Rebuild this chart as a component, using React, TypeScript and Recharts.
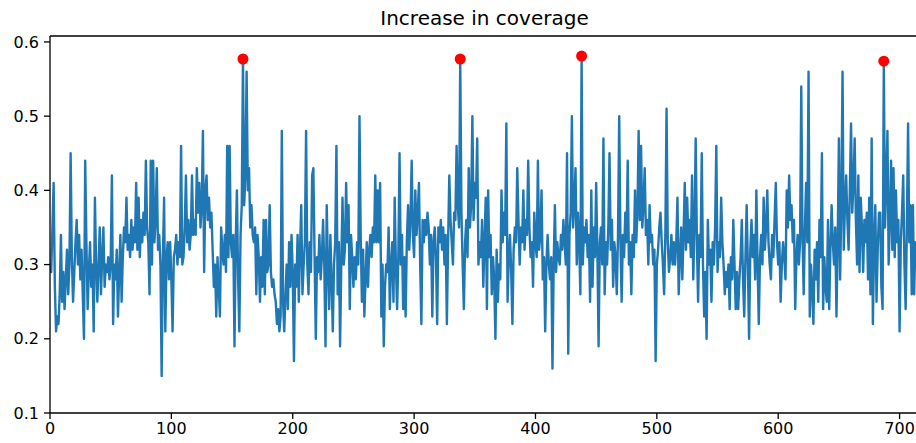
import { ComposedChart, Line, Scatter, XAxis, YAxis, ReferenceLine } from 'recharts';

// increase in coverage per step (index = position in array)
const COVERAGE: number[] = [
  0.30, 0.29, 0.35, 0.41, 0.27, 0.21, 0.23, 0.22, 0.26, 0.34,
  0.25, 0.29, 0.24, 0.28, 0.32, 0.26, 0.30, 0.45, 0.31, 0.25,
  0.29, 0.33, 0.36, 0.30, 0.34, 0.28, 0.32, 0.26, 0.20, 0.44,
  0.33, 0.24, 0.29, 0.33, 0.27, 0.30, 0.21, 0.39, 0.30, 0.25,
  0.30, 0.35, 0.26, 0.31, 0.35, 0.27, 0.30, 0.29, 0.31, 0.28,
  0.30, 0.42, 0.22, 0.30, 0.28, 0.32, 0.23, 0.29, 0.34, 0.25,
  0.31, 0.35, 0.33, 0.39, 0.32, 0.34, 0.31, 0.36, 0.32, 0.35,
  0.33, 0.41, 0.32, 0.39, 0.31, 0.36, 0.33, 0.37, 0.34, 0.44,
  0.35, 0.33, 0.26, 0.44, 0.30, 0.44, 0.33, 0.36, 0.43, 0.32,
  0.34, 0.30, 0.15, 0.31, 0.39, 0.21, 0.31, 0.33, 0.28, 0.33,
  0.28, 0.21, 0.31, 0.32, 0.34, 0.30, 0.33, 0.31, 0.46, 0.30,
  0.31, 0.35, 0.42, 0.33, 0.36, 0.32, 0.34, 0.42, 0.34, 0.36,
  0.34, 0.43, 0.37, 0.41, 0.35, 0.38, 0.48, 0.29, 0.40, 0.42,
  0.36, 0.39, 0.35, 0.37, 0.32, 0.27, 0.30, 0.23, 0.31, 0.27,
  0.23, 0.35, 0.32, 0.30, 0.34, 0.29, 0.46, 0.31, 0.46, 0.33,
  0.31, 0.34, 0.19, 0.33, 0.40, 0.28, 0.21, 0.34, 0.38, 0.577,
  0.38, 0.42, 0.56, 0.40, 0.43, 0.35, 0.38, 0.34, 0.33, 0.35,
  0.26, 0.34, 0.31, 0.25, 0.31, 0.27, 0.36, 0.26, 0.36, 0.29,
  0.30, 0.38, 0.29, 0.27, 0.28, 0.26, 0.25, 0.22, 0.24, 0.21,
  0.23, 0.48, 0.25, 0.21, 0.26, 0.30, 0.24, 0.33, 0.27, 0.34,
  0.29, 0.17, 0.30, 0.27, 0.34, 0.25, 0.32, 0.38, 0.26, 0.30,
  0.33, 0.48, 0.30, 0.26, 0.33, 0.29, 0.42, 0.43, 0.31, 0.20,
  0.31, 0.29, 0.34, 0.28, 0.31, 0.36, 0.30, 0.19, 0.38, 0.30,
  0.24, 0.34, 0.28, 0.21, 0.30, 0.33, 0.46, 0.26, 0.33, 0.19,
  0.30, 0.39, 0.30, 0.32, 0.41, 0.33, 0.38, 0.24, 0.34, 0.31,
  0.27, 0.31, 0.28, 0.33, 0.30, 0.50, 0.34, 0.25, 0.32, 0.23,
  0.28, 0.33, 0.27, 0.32, 0.34, 0.31, 0.35, 0.33, 0.42, 0.33,
  0.40, 0.33, 0.41, 0.23, 0.30, 0.19, 0.27, 0.30, 0.29, 0.35,
  0.24, 0.30, 0.33, 0.25, 0.39, 0.30, 0.24, 0.31, 0.45, 0.30,
  0.34, 0.24, 0.31, 0.23, 0.33, 0.38, 0.32, 0.36, 0.44, 0.34,
  0.31, 0.40, 0.34, 0.37, 0.41, 0.30, 0.22, 0.36, 0.33, 0.36,
  0.34, 0.37, 0.35, 0.30, 0.34, 0.23, 0.33, 0.35, 0.31, 0.22,
  0.35, 0.33, 0.36, 0.32, 0.35, 0.30, 0.34, 0.22, 0.33, 0.42,
  0.36, 0.33, 0.30, 0.37, 0.36, 0.46, 0.38, 0.35, 0.577, 0.37,
  0.30, 0.24, 0.33, 0.36, 0.31, 0.43, 0.35, 0.38, 0.50, 0.36,
  0.41, 0.39, 0.47, 0.30, 0.33, 0.31, 0.36, 0.27, 0.33, 0.39,
  0.24, 0.40, 0.31, 0.34, 0.26, 0.31, 0.28, 0.20, 0.32, 0.25,
  0.30, 0.28, 0.40, 0.33, 0.37, 0.34, 0.49, 0.25, 0.31, 0.34,
  0.29, 0.22, 0.32, 0.35, 0.33, 0.43, 0.36, 0.30, 0.35, 0.33,
  0.40, 0.32, 0.36, 0.34, 0.44, 0.35, 0.31, 0.33, 0.27, 0.37,
  0.33, 0.31, 0.44, 0.32, 0.34, 0.40, 0.28, 0.31, 0.21, 0.30,
  0.34, 0.30, 0.28, 0.31, 0.16, 0.30, 0.38, 0.29, 0.33, 0.31,
  0.30, 0.34, 0.32, 0.36, 0.33, 0.30, 0.45, 0.18, 0.34, 0.37,
  0.50, 0.35, 0.38, 0.43, 0.30, 0.37, 0.33, 0.26, 0.581, 0.30,
  0.35, 0.33, 0.36, 0.31, 0.34, 0.25, 0.40, 0.27, 0.35, 0.31,
  0.41, 0.32, 0.19, 0.33, 0.35, 0.30, 0.47, 0.26, 0.33, 0.30,
  0.35, 0.45, 0.32, 0.36, 0.27, 0.33, 0.31, 0.26, 0.34, 0.50,
  0.33, 0.25, 0.34, 0.31, 0.37, 0.33, 0.44, 0.30, 0.33, 0.26,
  0.34, 0.31, 0.40, 0.33, 0.37, 0.48, 0.36, 0.46, 0.35, 0.38,
  0.43, 0.34, 0.36, 0.30, 0.38, 0.33, 0.34, 0.30, 0.32, 0.17,
  0.30, 0.32, 0.35, 0.37, 0.33, 0.30, 0.26, 0.34, 0.51, 0.33,
  0.29, 0.31, 0.34, 0.30, 0.33, 0.30, 0.33, 0.39, 0.26, 0.31,
  0.35, 0.28, 0.34, 0.41, 0.32, 0.39, 0.33, 0.36, 0.31, 0.42,
  0.28, 0.35, 0.47, 0.33, 0.25, 0.34, 0.31, 0.45, 0.30, 0.23,
  0.29, 0.20, 0.36, 0.30, 0.32, 0.25, 0.33, 0.30, 0.35, 0.46,
  0.29, 0.33, 0.31, 0.39, 0.33, 0.30, 0.26, 0.29, 0.27, 0.30,
  0.24, 0.31, 0.28, 0.36, 0.30, 0.24, 0.29, 0.24, 0.28, 0.31,
  0.36, 0.28, 0.23, 0.31, 0.38, 0.30, 0.20, 0.32, 0.36, 0.31,
  0.34, 0.28, 0.40, 0.30, 0.22, 0.31, 0.34, 0.30, 0.39, 0.32,
  0.35, 0.40, 0.33, 0.30, 0.28, 0.34, 0.31, 0.36, 0.41, 0.33,
  0.30, 0.33, 0.25, 0.30, 0.33, 0.31, 0.28, 0.40, 0.35, 0.42,
  0.36, 0.38, 0.33, 0.36, 0.24, 0.31, 0.34, 0.30, 0.33, 0.54,
  0.34, 0.26, 0.35, 0.41, 0.33, 0.56, 0.23, 0.30, 0.27, 0.22,
  0.32, 0.28, 0.33, 0.25, 0.36, 0.31, 0.45, 0.24, 0.31, 0.27,
  0.25, 0.36, 0.24, 0.32, 0.38, 0.33, 0.30, 0.35, 0.23, 0.33,
  0.47, 0.28, 0.38, 0.56, 0.32, 0.38, 0.42, 0.36, 0.32, 0.40,
  0.49, 0.37, 0.41, 0.47, 0.36, 0.30, 0.42, 0.29, 0.39, 0.35,
  0.29, 0.36, 0.33, 0.37, 0.28, 0.39, 0.26, 0.47, 0.22, 0.33,
  0.38, 0.25, 0.32, 0.37, 0.37, 0.27, 0.24, 0.574, 0.35, 0.41,
  0.48, 0.30, 0.36, 0.44, 0.32, 0.43, 0.31, 0.40, 0.33, 0.36,
  0.21, 0.33, 0.37, 0.42, 0.30, 0.24, 0.35, 0.49, 0.33, 0.38,
  0.26, 0.38, 0.26, 0.33, 0.30,
];

// steps marked with a red dot
const PEAK_INDEX = [159, 338, 438, 687];

const X_TICKS = [0, 100, 200, 300, 400, 500, 600, 700];
const Y_TICKS = [0.1, 0.2, 0.3, 0.4, 0.5, 0.6];

const X_MAX = 716;
const Y_MIN = 0.1;
const Y_MAX = 0.608;

const FONT = '"DejaVu Sans", sans-serif';

export default function App() {
  const lineData = COVERAGE.map((v, i) => ({ x: i, y: v }));
  const peakData = PEAK_INDEX.map((i) => ({ x: i, y: COVERAGE[i] }));

  const tick = { fill: '#000', fontSize: 16, fontFamily: FONT };

  return (
    <div style={{ position: 'absolute', left: 0, top: 0, width: 916, height: 443, overflow: 'hidden', background: '#fff' }}>
      <div style={{
        position: 'absolute',
        left: 0,
        top: 6,
        width: 969,
        textAlign: 'center',
        fontFamily: FONT,
        fontSize: 20,
        color: '#000',
      }}>
        Increase in coverage
      </div>
      <ComposedChart
        width={920}
        height={443}
        data={lineData}
        margin={{ top: 36, right: 1, bottom: 0, left: 0 }}
      >
        <XAxis
          type="number"
          dataKey="x"
          domain={[0, X_MAX]}
          ticks={X_TICKS}
          allowDataOverflow
          height={30}
          tick={tick}
          tickSize={6}
          tickMargin={4}
          axisLine={{ stroke: '#000', strokeWidth: 1.3 }}
          tickLine={{ stroke: '#000', strokeWidth: 1.3 }}
        />
        <YAxis
          type="number"
          dataKey="y"
          domain={[Y_MIN, Y_MAX]}
          ticks={Y_TICKS}
          allowDataOverflow
          width={50}
          tick={tick}
          tickSize={6}
          tickMargin={5}
          tickFormatter={(v: number) => v.toFixed(1)}
          axisLine={{ stroke: '#000', strokeWidth: 1.3 }}
          tickLine={{ stroke: '#000', strokeWidth: 1.3 }}
        />
        <ReferenceLine y={Y_MAX} stroke="#000" strokeWidth={1.3} ifOverflow="extendDomain" />
        <Line
          type="linear"
          dataKey="y"
          stroke="#1f77b4"
          strokeWidth={2.4}
          strokeLinejoin="round"
          dot={false}
          activeDot={false}
          isAnimationActive={false}
        />
        <Scatter
          data={peakData}
          dataKey="y"
          fill="#ff0000"
          shape={(p: any) => <circle cx={p.cx} cy={p.cy} r={5.5} fill="#ff0000" />}
          isAnimationActive={false}
        />
      </ComposedChart>
    </div>
  );
}
